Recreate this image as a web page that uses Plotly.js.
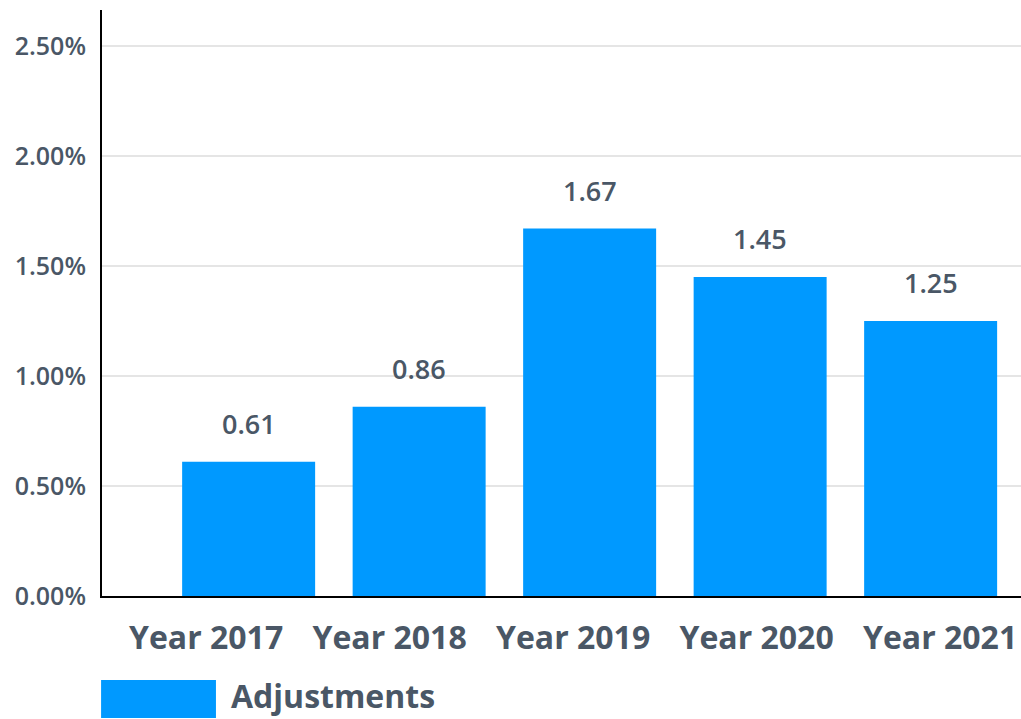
<!DOCTYPE html>
<html><head><meta charset="utf-8">
<script src="https://cdn.plot.ly/plotly-3.0.1.min.js"></script>
<style>html,body{margin:0;padding:0;background:#fff}#chart{width:1021px;height:719px}</style>
</head><body><div id="chart"></div>
<script>
const categories = ["Year 2017", "Year 2018", "Year 2019", "Year 2020", "Year 2021"];
const values = [0.61, 0.86, 1.67, 1.45, 1.25];
const labels = ["0.61", "0.86", "1.67", "1.45", "1.25"];
const seriesName = "Adjustments";
const yTickVals = [0, 0.5, 1, 1.5, 2, 2.5];
const yTickText = ["0.00%", "0.50%", "1.00%", "1.50%", "2.00%", "2.50%"];

const textColor = "#4a5766";
const barColor = "#0099ff";
const font = "Open Sans";

const trace = {
  type: "bar", x: categories, y: values, name: seriesName,
  marker: {color: barColor}, hoverinfo: "none", showlegend: false
};
// invisible trace that carries the category tick labels on their own axis
const labelTrace = {
  type: "scatter", mode: "markers", x: categories, y: values,
  xaxis: "x2", yaxis: "y", marker: {opacity: 0}, hoverinfo: "none", showlegend: false
};

const annotations = categories.map((c, i) => ({
  x: c, y: values[i], xref: "x", yref: "y", text: labels[i],
  showarrow: false, yanchor: "bottom", yshift: 18,
  font: {family: font, size: 27, color: textColor, weight: 600}
}));
annotations.push({
  xref: "paper", yref: "paper", x: 0.1382, y: -0.2095, xanchor: "left", yanchor: "bottom",
  text: seriesName, showarrow: false,
  font: {family: font, size: 32, color: textColor, weight: 700}
});

const layout = {
  width: 1021, height: 719,
  margin: {l: 102, r: 0, t: 10, b: 123},
  paper_bgcolor: "#fff", plot_bgcolor: "#fff",
  bargap: 0.22,
  showlegend: false,
  xaxis: {
    type: "category", range: [-0.86, 4.53], fixedrange: true,
    showgrid: false, zeroline: false,
    showline: true, linecolor: "#000", linewidth: 2,
    ticks: "", showticklabels: false
  },
  xaxis2: {
    type: "category", range: [-0.567, 4.441], fixedrange: true,
    overlaying: "x", side: "bottom",
    showgrid: false, zeroline: false, showline: false,
    ticks: "", ticklabelstandoff: 20,
    tickfont: {family: font, size: 32, color: textColor, weight: 700}
  },
  yaxis: {
    range: [0, 2.6636], fixedrange: true,
    tickvals: yTickVals, ticktext: yTickText,
    showgrid: true, gridcolor: "#e5e5e5", gridwidth: 2,
    zeroline: false,
    showline: true, linecolor: "#000", linewidth: 2,
    ticks: "", ticklabelstandoff: 9,
    tickfont: {family: font, size: 25, color: textColor, weight: 600}
  },
  shapes: [{
    type: "rect", xref: "paper", yref: "paper",
    x0: -0.001, x1: 0.124, y0: -0.2082, y1: -0.1433,
    fillcolor: barColor, line: {width: 0}
  }],
  annotations: annotations
};

Plotly.newPlot("chart", [trace, labelTrace], layout, {displayModeBar: false, staticPlot: true});
</script></body></html>
